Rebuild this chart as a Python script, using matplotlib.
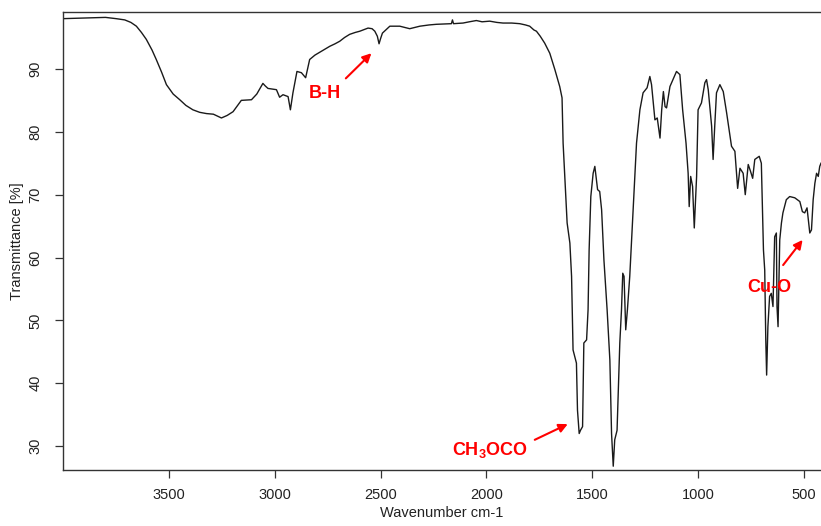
"""IR spectrum with band annotations."""

import matplotlib

matplotlib.use("Agg")
import matplotlib.pyplot as plt

plt.rcParams["font.family"] = ["Liberation Sans", "DejaVu Sans"]
plt.rcParams["mathtext.fontset"] = "custom"
plt.rcParams["mathtext.bf"] = "Liberation Sans:bold"
plt.rcParams["mathtext.rm"] = "Liberation Sans"

# wavenumber (cm-1) and transmittance (%)
wavenumber = [
    4000, 3900, 3800, 3750, 3709, 3680, 3654, 3630, 3607, 3580, 3560, 3535,
    3512, 3480, 3449, 3420, 3387, 3355, 3323, 3290, 3252, 3225, 3197, 3175,
    3158, 3110, 3085, 3056, 3045, 3032, 2992, 2977, 2961, 2937, 2926, 2914,
    2895, 2874, 2854, 2835, 2810, 2795, 2770, 2740, 2715, 2693, 2670, 2646,
    2620, 2598, 2559, 2540, 2527, 2515, 2507, 2500, 2491, 2456, 2409, 2362,
    2314, 2270, 2236, 2165, 2160, 2155, 2110, 2080, 2047, 2020, 1984, 1950,
    1921, 1880, 1842, 1815, 1795, 1775, 1763, 1745, 1724, 1700, 1676, 1653,
    1642, 1637, 1629, 1618, 1605, 1597, 1590, 1574, 1569, 1561, 1555, 1545,
    1539, 1526, 1519, 1514, 1506, 1495, 1487, 1474, 1464, 1455, 1444, 1429,
    1416, 1408, 1400, 1393, 1382, 1369, 1361, 1355, 1349, 1341, 1333, 1322,
    1306, 1290, 1274, 1259, 1240, 1227, 1219, 1203, 1192, 1179, 1171, 1163,
    1155, 1148, 1132, 1101, 1085, 1072, 1056, 1046, 1041, 1034, 1025, 1017,
    1006, 999, 983, 967, 959, 951, 935, 928, 920, 912, 896, 880,
    864, 841, 825, 812, 801, 786, 776, 762, 751, 741, 731, 710,
    700, 695, 690, 684, 679, 675, 669, 661, 653, 645, 637, 629,
    626, 621, 613, 605, 598, 582, 566, 542, 518, 506, 495, 484,
    471, 463, 455, 447, 439, 431, 424, 418,
]
transmittance = [
    98.0, 98.1, 98.2, 98.0, 97.8, 97.4, 96.8, 95.8, 94.7, 93.0, 91.5, 89.5,
    87.5, 86.0, 85.1, 84.2, 83.5, 83.1, 82.9, 82.8, 82.2, 82.6, 83.2, 84.2,
    85.0, 85.1, 86.0, 87.7, 87.3, 86.9, 86.7, 85.5, 85.9, 85.6, 83.5, 86.2,
    89.6, 89.4, 88.6, 91.5, 92.2, 92.5, 93.0, 93.6, 94.0, 94.4, 95.0, 95.5,
    95.8, 96.0, 96.5, 96.4, 96.0, 95.2, 94.0, 94.8, 95.7, 96.8, 96.8, 96.4,
    96.8, 97.0, 97.1, 97.2, 97.8, 97.2, 97.3, 97.5, 97.7, 97.5, 97.6, 97.4,
    97.3, 97.3, 97.2, 97.0, 96.8, 96.2, 96.0, 95.2, 94.1, 92.5, 89.9, 87.2,
    85.4, 78.2, 72.9, 65.5, 62.3, 57.0, 45.3, 43.2, 35.7, 32.0, 32.5, 33.1,
    46.4, 46.9, 51.7, 61.2, 69.7, 73.4, 74.5, 70.8, 70.5, 67.6, 59.6, 51.7,
    43.7, 32.0, 26.8, 31.0, 32.5, 46.4, 51.7, 57.5, 57.0, 48.5, 51.7, 57.0,
    67.6, 78.2, 83.5, 86.2, 87.0, 88.8, 87.5, 81.9, 82.2, 79.0, 83.5, 86.4,
    84.0, 83.8, 87.2, 89.6, 89.1, 83.5, 78.2, 73.4, 68.1, 72.9, 71.3, 64.7,
    72.9, 83.5, 84.6, 87.8, 88.3, 86.7, 80.9, 75.6, 81.1, 86.2, 87.5, 86.4,
    83.0, 77.7, 76.9, 71.0, 74.2, 73.4, 70.0, 74.8, 73.7, 72.6, 75.6, 76.1,
    75.0, 68.0, 61.2, 58.0, 46.9, 41.3, 49.0, 53.8, 54.3, 52.2, 63.3, 63.9,
    52.2, 49.0, 62.8, 65.5, 67.1, 69.2, 69.7, 69.5, 68.9, 67.3, 67.1, 67.9,
    63.9, 64.4, 69.2, 71.8, 73.4, 72.9, 74.5, 75.0,
]

# band labels: text, text position, arrow tail, arrow head
bands = [
    ("B-H", (2761, 86.1), (2664, 88.5), (2543, 92.5)),
    (r"CH$_\mathbf{3}$OCO", (1984, 29.4), (1771, 31.0), (1615, 33.5)),
    ("Cu-O", (660, 55.2), (597, 58.8), (505, 62.8)),
]

x_ticks = [3500, 3000, 2500, 2000, 1500, 1000, 500]
y_ticks = [30, 40, 50, 60, 70, 80, 90]

fig = plt.figure(figsize=(8.21, 5.26), dpi=100)
ax = fig.add_axes([0.0767, 0.1065, 0.9233, 0.870])

ax.plot(wavenumber, transmittance, color="#1a1a1a", lw=1.0)
ax.set_xlim(4001, 418)
ax.set_ylim(26.2, 99.0)

for label, txt, tail, head in bands:
    ax.text(txt[0], txt[1], label, color="red", fontsize=13, fontweight="bold",
            ha="center", va="center")
    ax.annotate("", xy=head, xytext=tail,
                arrowprops=dict(arrowstyle="-|>", color="red", lw=1.5,
                                mutation_scale=13, shrinkA=0, shrinkB=0))

ax.set_xticks(x_ticks)
ax.set_yticks(y_ticks)
ax.tick_params(direction="out", length=6, width=0.9, color="#333333",
               labelsize=10.5, labelcolor="#222222")
ax.tick_params(axis="x", pad=7)
ax.tick_params(axis="y", pad=9)
for lbl in ax.get_yticklabels():
    lbl.set_rotation(90)
    lbl.set_va("center")

for side in ["left", "bottom", "top"]:
    ax.spines[side].set_color("#333333")
    ax.spines[side].set_linewidth(1.0)
ax.spines["right"].set_visible(False)

ax.set_xlabel("Wavenumber cm-1", fontsize=10.5, color="#222222", labelpad=3)
ax.set_ylabel("Transmittance [%]", fontsize=10.5, color="#222222", labelpad=3)

fig.savefig("out.png", dpi=100)
